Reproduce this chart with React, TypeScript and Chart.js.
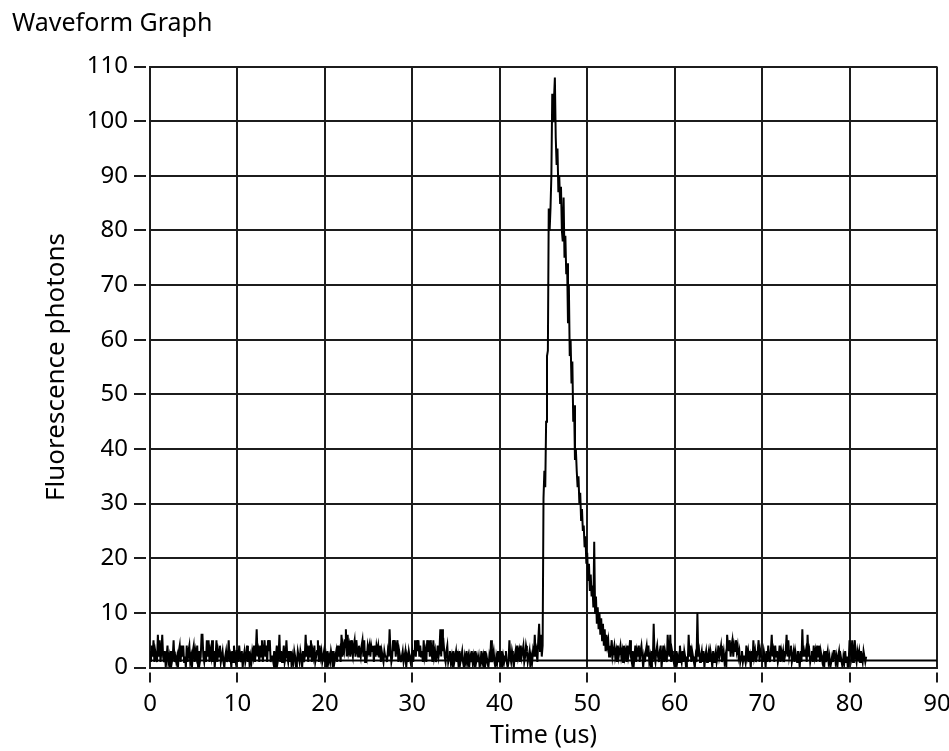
import React, { useEffect, useRef } from "react";
import { Chart, registerables } from "chart.js";

Chart.register(...registerables);

// Sample spacing (us) of the waveform
const SAMPLE_DT = 0.1;

// 0.0 – 44.9 us : background noise (one row = 1 us)
const leadValues = [
  3,1,4,2,5,1,3,2,1,6,
  2,5,1,3,6,2,1,3,0,2,
  4,1,2,0,3,1,2,5,1,2,
  1,2,0,3,4,1,4,2,4,1,
  2,0,4,1,3,4,1,2,0,3,
  4,1,3,2,4,0,3,1,2,6,
  6,2,1,3,1,5,2,5,1,3,
  2,5,1,3,0,2,5,1,3,2,
  4,1,2,3,1,0,2,3,1,2,
  5,1,2,0,3,1,4,2,1,3,
  3,1,4,2,1,3,0,2,3,1,
  2,4,1,3,0,2,1,3,2,4,
  1,3,7,2,3,1,4,2,5,1,
  3,5,2,4,1,5,3,5,1,2,
  2,1,3,0,2,4,1,2,6,1,
  3,1,2,4,1,2,5,2,1,3,
  1,3,0,2,1,3,2,0,1,3,
  2,1,3,2,0,3,1,2,6,2,
  3,1,4,2,5,1,3,2,4,1,
  2,3,5,1,4,2,3,1,2,3,
  1,2,0,3,1,2,1,3,2,0,
  3,1,2,3,1,4,2,3,1,6,
  2,4,3,5,7,2,6,3,4,2,
  5,3,2,4,5,2,5,3,2,4,
  3,2,4,5,2,5,1,3,2,4,
  3,4,2,4,3,4,1,4,2,4,
  3,4,2,4,1,3,2,1,3,2,
  2,1,3,2,7,3,1,2,5,3,
  5,2,4,5,1,3,2,1,2,3,
  1,2,3,0,2,1,3,2,1,2,
  3,1,3,5,2,5,3,5,2,4,
  2,3,1,5,2,3,1,5,3,5,
  2,5,3,1,5,2,3,1,2,4,
  2,3,7,2,7,3,4,2,1,3,
  4,1,2,3,1,2,0,3,1,2,
  3,1,2,0,3,1,2,3,1,0,
  2,1,3,1,2,0,2,1,3,1,
  2,0,3,1,2,1,2,0,1,3,
  1,2,0,3,1,2,1,0,2,1,
  5,1,2,3,1,0,2,1,3,1,
  2,1,3,0,2,1,2,3,1,0,
  1,5,2,1,3,2,0,2,3,1,
  4,2,3,1,4,2,3,4,1,2,
  4,3,1,2,3,0,2,1,3,2,
  6,2,3,1,5,8,3,6,2,4,
];

// 45.0 – 52.9 us : fluorescence pulse
const pulseValues = [
  31,36,33,45,57,58,84,80,84,90,
  105,100,104,108,97,92,95,87,90,85,
  88,80,78,86,75,79,72,74,63,70,
  57,60,52,56,45,48,38,40,36,33,
  35,30,32,27,29,25,26,22,24,19,
  21,16,19,14,17,13,15,11,23,10,
  13,8,11,7,10,6,9,5,8,4,
  7,3,6,4,5,2,4,3,5,2,
];

// 53.0 – 81.9 us : background noise after the pulse
const tailValues = [
  3,4,2,3,1,4,2,3,4,2,
  3,1,4,2,3,1,4,2,3,5,
  2,1,3,0,2,4,1,3,2,4,
  1,3,4,2,0,2,1,3,4,2,
  4,1,2,0,3,1,8,2,1,3,
  4,2,1,3,4,0,2,4,1,3,
  2,1,6,3,2,6,1,3,2,1,
  2,0,3,1,2,1,4,2,1,3,
  1,3,2,0,2,1,6,2,4,1,
  3,2,1,0,2,1,10,2,3,1,
  2,3,1,3,0,2,3,1,2,3,
  1,3,2,0,3,1,2,3,1,2,
  4,2,3,4,1,2,3,1,2,0,
  6,4,3,5,2,4,5,2,4,3,
  5,3,4,2,3,1,2,3,1,2,
  2,1,4,2,3,1,2,0,3,1,
  5,2,3,1,2,3,5,1,3,2,
  2,1,3,2,0,3,1,4,2,1,
  3,6,2,3,1,4,2,3,1,2,
  4,1,3,2,3,1,2,3,6,2,
  5,2,3,4,1,2,3,1,3,2,
  1,3,2,0,3,1,7,2,3,2,
  3,1,6,2,3,1,2,3,1,4,
  2,3,1,4,2,4,1,3,2,1,
  2,0,3,1,2,3,1,2,0,1,
  2,1,3,3,1,2,0,2,3,1,
  2,1,0,2,1,3,1,2,0,1,
  5,3,2,5,1,3,5,2,1,3,
  2,3,1,3,2,1,3,2,1,2,
];

// Constant reference level drawn across the full time range
const levelTimes = [0, 90];
const levelValues = [1.3, 1.3];

// Axis ranges / ticks
const X_MIN = 0;
const X_MAX = 90;
const X_STEP = 10;
const Y_MIN = 0;
const Y_MAX = 110;
const Y_STEP = 10;

const GRID = "#1c1c1c";
const FONT = "'Noto Sans', 'DejaVu Sans', sans-serif";

const tickMarks = {
  id: "tickMarks",
  afterDraw(chart: any) {
    const { ctx, chartArea } = chart;
    const xs = chart.scales.x;
    const ys = chart.scales.y;
    ctx.save();
    ctx.strokeStyle = GRID;
    ctx.lineWidth = 2;
    ctx.beginPath();
    ys.ticks.forEach((t: any) => {
      const py = Math.round(ys.getPixelForValue(t.value));
      ctx.moveTo(chartArea.left - 16, py);
      ctx.lineTo(chartArea.left - 4, py);
    });
    xs.ticks.forEach((t: any) => {
      const px = Math.round(xs.getPixelForValue(t.value));
      ctx.moveTo(px, chartArea.bottom + 5);
      ctx.lineTo(px, chartArea.bottom + 15);
    });
    ctx.stroke();
    ctx.restore();
  },
};

export default function App() {
  const ref = useRef<HTMLCanvasElement | null>(null);

  useEffect(() => {
    if (!ref.current) return;
    const allValues = [...leadValues, ...pulseValues, ...tailValues];
    const wave = allValues.map((v, i) => ({ x: Math.round(i * SAMPLE_DT * 10) / 10, y: v }));
    const level = levelTimes.map((t, i) => ({ x: t, y: levelValues[i] }));

    const chart = new Chart(ref.current, {
      type: "line",
      data: {
        datasets: [
          {
            data: level,
            borderColor: "#000",
            borderWidth: 2,
            pointRadius: 0,
            tension: 0,
          },
          {
            data: wave,
            borderColor: "#000",
            borderWidth: 2,
            pointRadius: 0,
            tension: 0,
          },
        ],
      },
      options: {
        animation: false,
        responsive: false,
        events: [],
        layout: { padding: { left: 12, right: 12, top: 0, bottom: 0 } },
        plugins: {
          legend: { display: false },
          tooltip: { enabled: false },
          title: {
            display: true,
            text: "Waveform Graph",
            align: "start",
            color: "#000",
            font: { family: FONT, size: 25, weight: "normal" },
            padding: { top: 9, bottom: 27.5 },
          },
        },
        scales: {
          x: {
            type: "linear",
            min: X_MIN,
            max: X_MAX,
            ticks: {
              stepSize: X_STEP,
              color: "#000",
              font: { family: FONT, size: 24 },
              padding: 22,
              maxRotation: 0,
            },
            grid: { color: GRID, lineWidth: 2, drawTicks: false },
            border: { color: GRID, width: 2 },
            title: {
              display: true,
              text: "Time (us)",
              color: "#000",
              font: { family: FONT, size: 25 },
              padding: { top: 0, bottom: 0 },
            },
            afterFit(scale: any) {
              scale.height = 83.5;
              scale.paddingLeft = 0;
              scale.paddingRight = 0;
            },
          },
          y: {
            type: "linear",
            min: Y_MIN,
            max: Y_MAX,
            ticks: {
              stepSize: Y_STEP,
              color: "#000",
              font: { family: FONT, size: 24 },
              padding: 22,
            },
            grid: { color: GRID, lineWidth: 2, drawTicks: false },
            border: { color: GRID, width: 2 },
            title: {
              display: true,
              text: "Fluorescence photons",
              color: "#000",
              font: { family: FONT, size: 26 },
              padding: { top: 29, bottom: 0 },
            },
            afterFit(scale: any) {
              scale.width = 138;
              scale.paddingTop = 0;
              scale.paddingBottom = 0;
            },
          },
        },
      },
      plugins: [tickMarks],
    });
    return () => chart.destroy();
  }, []);

  return (
    <div style={{ position: "absolute", left: 0, top: 0, width: 949, height: 751, background: "#fff" }}>
      <canvas ref={ref} width={949} height={751} style={{ display: "block" }} />
    </div>
  );
}
